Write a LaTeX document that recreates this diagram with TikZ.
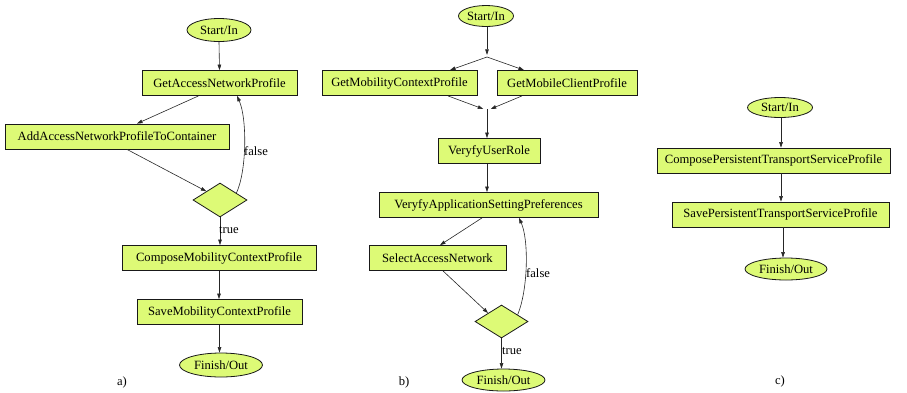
\documentclass[tikz,border=0pt]{standalone}
\usepackage{fontspec}
\setmainfont{Liberation Serif}
\usetikzlibrary{arrows.meta,shapes.geometric,calc}
\definecolor{nodefill}{RGB}{221,250,118}
\tikzset{
  every node/.style={font=\fontsize{12.6}{14}\selectfont},
  stepbox/.style={draw=black!90, line width=0.8pt, fill=nodefill, rectangle, inner sep=0pt, minimum height=25},
  termnode/.style={draw=black!90, line width=0.8pt, fill=nodefill, ellipse, inner sep=0pt},
  choice/.style={draw=black!90, line width=0.8pt, fill=nodefill, diamond, inner sep=0pt, minimum width=54, minimum height=34},
  junction/.style={circle, inner sep=0pt, minimum size=4},
  flow/.style={draw=black!85, line width=0.6pt, -{Triangle[length=5.5pt,width=3.6pt]}},
  edgelabel/.style={anchor=west, inner sep=0pt}
}
\begin{document}
\begin{tikzpicture}[x=1pt,y=-1pt]
\useasboundingbox (0,0) rectangle (907,392);

% ---- a) ----
\node[termnode, minimum width=64, minimum height=23] (s1) at (219,30) {Start/In};
\node[stepbox, minimum width=155] (g1) at (219.5,83) {GetAccessNetworkProfile};
\node[stepbox, minimum width=224] (add) at (117,136.5) {AddAccessNetworkProfileToContainer};
\node[choice] (d1) at (220,200) {};
\node[stepbox, minimum width=194] (comp) at (219,258) {ComposeMobilityContextProfile};
\node[stepbox, minimum width=165] (sv1) at (219.5,312) {SaveMobilityContextProfile};
\node[termnode, minimum width=83, minimum height=24] (f1) at (221,365) {Finish/Out};
\node (la) at (122,382) {a)};

\draw[flow] (s1.south) -- (g1.north);
\draw[flow] ($(g1.south)+(-21,0)$) -- ($(add.north)+(20,0)$);
\draw[flow] ($(add.south)+(10,0)$) -- ($(d1.north)!0.5!(d1.west)$);
\draw[flow] ($(d1.north)!0.6!(d1.east)$) .. controls (247,170) and (247,118) .. ($(g1.south)+(17.5,0)$);
\draw[flow] (d1.south) -- (comp.north -| d1.south);
\draw[flow] (comp.south) -- (sv1.north -| comp.south);
\draw[flow] (sv1.south) -- (f1.north -| sv1.south);
\node[edgelabel] (fa) at (244,151) {false};
\node[edgelabel] (ta) at (219,230) {true};

% ---- b) ----
\node[termnode, minimum width=55, minimum height=21] (s2) at (486,16) {Start/In};
\node[junction] (j1) at (487,57) {};
\node[stepbox, minimum width=155] (gm) at (399.5,83) {GetMobilityContextProfile};
\node[stepbox, minimum width=140] (gc) at (567,83) {GetMobileClientProfile};
\node[junction, minimum size=7] (j2) at (487,109) {};
\node[stepbox, minimum width=102] (vur) at (489,151) {VeryfyUserRole};
\node[stepbox, minimum width=219] (vasp) at (488.5,205) {VeryfyApplicationSettingPreferences};
\node[stepbox, minimum width=137] (san) at (437.5,258) {SelectAccessNetwork};
\node[choice, minimum width=53, minimum height=33] (d2) at (501.5,321.5) {};
\node[termnode, minimum width=83, minimum height=22] (f2) at (503.5,380) {Finish/Out};
\node (lb) at (404,382) {b)};

\draw[flow] (j1 |- s2.south) -- (j1.north);
\draw[flow] (j1.center) -- ($(gm.north)+(50.5,0)$);
\draw[flow] (j1.center) -- ($(gc.north)+(-43,0)$);
\draw[flow] ($(gm.south)+(48.5,0)$) -- (j2.west);
\draw[flow] ($(gc.south)+(-45,0)$) -- (j2.east);
\draw[flow] (j2.center) -- (j2 |- vur.north);
\draw[flow] (vur.south -| j2) -- (j2 |- vasp.north);
\draw[flow] ($(vasp.south)+(-6.5,0)$) -- ($(san.north)+(2.5,0)$);
\draw[flow] ($(san.south)+(5.5,0)$) -- ($(d2.north)!0.5!(d2.west)$);
\draw[flow] ($(d2.north)!0.6!(d2.east)$) .. controls (528,290) and (529,240) .. ($(vasp.south)+(30.5,0)$);
\draw[flow] (d2.south) -- (f2.north -| d2.south);
\node[edgelabel] (fb) at (526,273) {false};
\node[edgelabel] (tb) at (502,351) {true};

% ---- c) ----
\node[termnode, minimum width=65, minimum height=20] (s3) at (780,107.5) {Start/In};
\node[stepbox, minimum width=233] (cp) at (773.5,160.5) {ComposePersistentTransportServiceProfile};
\node[stepbox, minimum width=217] (sp) at (780.5,214.5) {SavePersistentTransportServiceProfile};
\node[termnode, minimum width=82, minimum height=22] (f3) at (786,269) {Finish/Out};
\node (lc) at (780,381) {c)};

\draw[flow] (781,117.5) -- (cp.north -| 781,0);
\draw[flow] (cp.south -| 781,0) -- (sp.north -| 781,0);
\draw[flow] (sp.south -| 783,0) -- (f3.north -| 783,0);
\end{tikzpicture}
\end{document}
